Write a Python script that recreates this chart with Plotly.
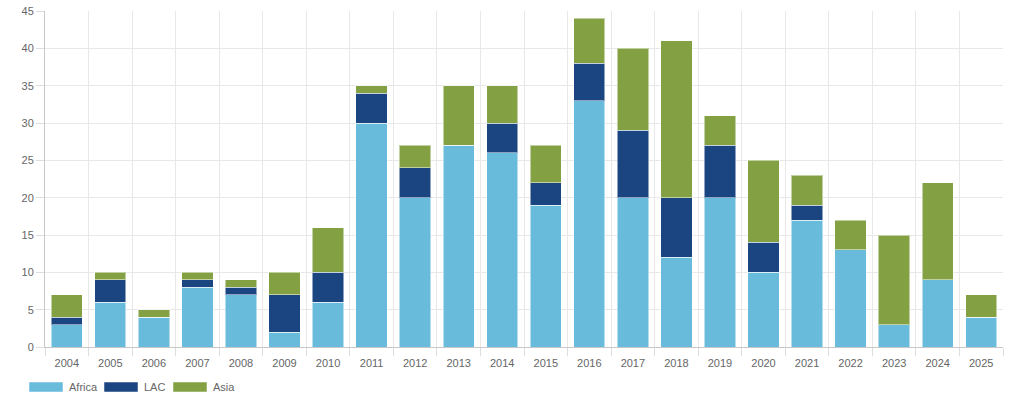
import plotly.graph_objects as go

years = [str(y) for y in range(2004, 2026)]
africa = [3, 6, 4, 8, 7, 2, 6, 30, 20, 27, 26, 19, 33, 20, 12, 20, 10, 17, 13, 3, 9, 4]
lac = [1, 3, 0, 1, 1, 5, 4, 4, 4, 0, 4, 3, 5, 9, 8, 7, 4, 2, 0, 0, 0, 0]
asia = [3, 1, 1, 1, 1, 3, 6, 1, 3, 8, 5, 5, 6, 11, 21, 4, 11, 4, 4, 12, 13, 3]
series_names = ["Africa", "LAC", "Asia"]
colors = ["#69bbdc", "#1b4580", "#83a043"]

W, H = 1024, 416
ml, mr, mt, mb = 45, 21, 11, 69

fig = go.Figure()
for name, vals, c in zip(series_names, [africa, lac, asia], colors):
    fig.add_trace(go.Bar(
        x=years, y=vals, name=name,
        marker=dict(color=c, line=dict(color="rgba(255,255,255,0.5)", width=1)),
        showlegend=False,
    ))

font = dict(family="Liberation Sans, Arial, sans-serif", size=11, color="#666666")
fig.update_layout(
    width=W, height=H,
    barmode="stack", bargap=0.28,
    margin=dict(l=ml, r=mr, t=mt, b=mb, autoexpand=False),
    paper_bgcolor="white", plot_bgcolor="white",
    font=font,
    xaxis=dict(
        type="category", tickson="boundaries", range=[-0.5, len(years) - 0.5],
        showgrid=True, gridcolor="#e8e8e8", gridwidth=1,
        ticks="outside", ticklen=8, tickcolor="#dddddd",
        showline=True, linecolor="#c8c8c8", linewidth=1,
        tickfont=font, fixedrange=True, automargin=False,
        ticklabelstandoff=6,
    ),
    yaxis=dict(
        range=[0, 45], dtick=5, tick0=0,
        showgrid=True, gridcolor="#e8e8e8", gridwidth=1,
        ticks="outside", ticklen=8, tickcolor="#dddddd",
        showline=True, linecolor="#c8c8c8", linewidth=1,
        zeroline=False, tickfont=font, fixedrange=True, automargin=False,
    ),
)

# Custom legend (wide boxes, Chart.js style)
pw = W - ml - mr
ph = H - mt - mb
def px_x(px):
    return (px - ml) / pw
def px_y(py):
    return (H - mb - py) / ph

legend_pos = [29, 104, 173]
for name, c, x0 in zip(series_names, colors, legend_pos):
    fig.add_shape(type="rect", xref="paper", yref="paper",
                  x0=px_x(x0), x1=px_x(x0 + 34), y0=px_y(392), y1=px_y(382),
                  fillcolor=c, line=dict(color="rgba(255,255,255,0.5)", width=1))
    fig.add_annotation(xref="paper", yref="paper", x=px_x(x0 + 38), y=px_y(387),
                       text=name, showarrow=False, xanchor="left", yanchor="middle",
                       font=dict(family="Liberation Sans, Arial, sans-serif", size=11, color="#666666"))

fig.write_html("out.html", config={"displayModeBar": False},
               post_script="document.body.style.margin='0';document.body.style.overflow='hidden';")
